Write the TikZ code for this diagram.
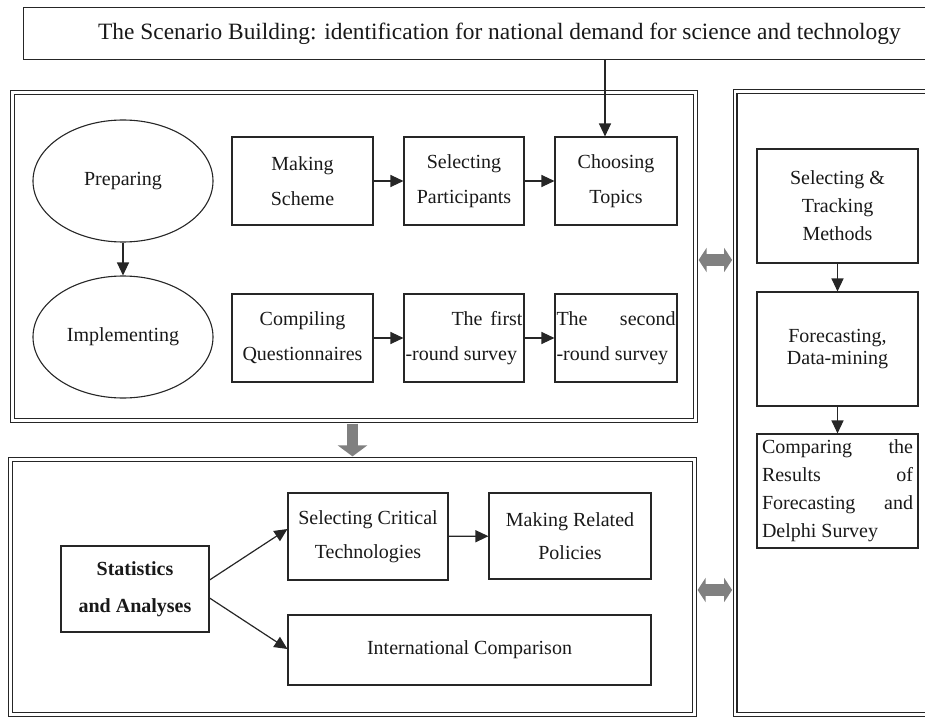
\documentclass[tikz,border=0pt]{standalone}
\usepackage{fontspec}
\setmainfont{Liberation Serif}
\usetikzlibrary{arrows.meta,shapes.geometric,calc}
\begin{document}
\begin{tikzpicture}[x=1pt,y=-1pt,
  ink/.style={draw=black!85, line width=1.1pt},
  stepbox/.style={ink, rectangle, inner sep=1pt, align=center, text=black!90},
  phase/.style={ink, ellipse, minimum width=180pt, minimum height=122pt, inner sep=0pt, text=black!90},
  panel/.style={draw=black!85, double=white, double distance=2.4pt, line width=1.2pt, rectangle, inner sep=0pt},
  flow/.style={draw=black!85, line width=1.2pt, -{Triangle[length=13pt,width=12pt]}},
  bigflow/.style={draw=black!50, line width=11pt, -{Triangle[length=11pt,width=29pt]}, shorten >=2.5pt, shorten <=2.5pt},
  bigswap/.style={draw=black!50, line width=12pt, {Triangle[length=8pt,width=24pt]}-{Triangle[length=8pt,width=24pt]}, shorten >=2.5pt, shorten <=2.5pt},
  sz/.style={font=\fontsize{20}{#1}\selectfont},
]
\useasboundingbox (0,0) rectangle (925,719);

% scenario building banner
\node[ink, rectangle, anchor=north west, minimum width=930pt, minimum height=52pt, inner sep=0pt] (scen) at (23,7) {};
\node[anchor=west, inner sep=0pt, font=\fontsize{23.4}{28}\selectfont, text=black!90] (scentext) at (98,34)
  {The Scenario Building: identification for national demand for science and technology};

% framing panels
\node[panel, minimum width=683pt, minimum height=328pt] (p1) at (354,256.5) {};
\node[panel, minimum width=684pt, minimum height=255pt] (p2) at (352.5,587) {};
\node[panel, minimum width=225pt, minimum height=623pt] (p3) at (847.7,403) {};

% Delphi survey phases
\node[phase, sz=24] (prep) at (123,181) {Preparing};
\node[phase, sz=24] (impl) at (123,337) {Implementing};

\node[stepbox, sz=35, minimum width=141pt, minimum height=88pt] (scheme) at (302.5,181) {Making\\Scheme};
\node[stepbox, sz=35, minimum width=120pt, minimum height=88pt] (partic) at (464,181) {Selecting\\Participants};
\node[stepbox, sz=35, minimum width=122pt, minimum height=88pt] (topics) at (616,181) {Choosing\\Topics};

\node[stepbox, sz=35, minimum width=141pt, minimum height=88pt] (compile) at (302.5,338) {Compiling\\Questionnaires};
\node[stepbox, sz=35, minimum width=120pt, minimum height=88pt] (first) at (464,338)
  {\makebox[117pt]{\hspace*{46pt}The\hfill first}\\\makebox[117pt][l]{-round survey}};
\node[stepbox, sz=35, minimum width=122pt, minimum height=88pt] (second) at (616,338)
  {\makebox[119pt]{The\hfill second}\\\makebox[119pt][l]{-round survey}};

% methods column
\node[stepbox, sz=28, minimum width=161pt, minimum height=114pt] (track) at (837.5,206) {Selecting \&\\Tracking\\Methods};
\node[stepbox, sz=22, minimum width=161pt, minimum height=114pt] (fore) at (837.5,349) {Forecasting,\\Data-mining};
\node[stepbox, sz=28, minimum width=161pt, minimum height=114pt] (comp) at (837.5,491)
  {\makebox[151pt]{Comparing\hfill the}\\\makebox[151pt]{Results\hfill of}\\\makebox[151pt]{Forecasting\hfill and}\\\makebox[151pt][l]{Delphi Survey}};

% analysis stage
\node[stepbox, minimum width=148pt, minimum height=86pt, font=\fontsize{20}{37}\selectfont\bfseries] (stat) at (135,589) {Statistics\\and Analyses};
\node[stepbox, sz=34, minimum width=160pt, minimum height=87pt] (crit) at (368,536.5) {Selecting Critical\\Technologies};
\node[stepbox, sz=33, minimum width=162pt, minimum height=86pt] (policy) at (570,536) {Making Related\\Policies};
\node[stepbox, sz=24, minimum width=363pt, minimum height=70pt] (intl) at (469.5,650) {International Comparison};

% connectors
\coordinate (tx) at (605,0);
\draw[flow] (scen.south -| tx) -- (topics.north -| tx);
\draw[flow] (prep) -- (impl);
\draw[flow] (scheme) -- (partic);
\draw[flow] (partic) -- (topics);
\draw[flow] (compile) -- (first);
\draw[flow] (first) -- (second);
\draw[flow] (track) -- (fore);
\draw[flow] (fore) -- (comp);
\draw[flow] ($(stat.east)+(0,-9)$) -- ($(crit.west)+(0,-7.5)$);
\draw[flow] ($(stat.east)+(0,9)$) -- ($(intl.west)+(0,-1)$);
\draw[flow] (crit) -- (policy);

% links between panels
\coordinate (sw1) at (0,260);
\coordinate (sw2) at (0,590);
\draw[bigflow] (p1.south -| p2.north) -- (p2.north);
\draw[bigswap] (p1.east |- sw1) -- (p3.west |- sw1);
\draw[bigswap] (p2.east |- sw2) -- (p3.west |- sw2);
\end{tikzpicture}
\end{document}
